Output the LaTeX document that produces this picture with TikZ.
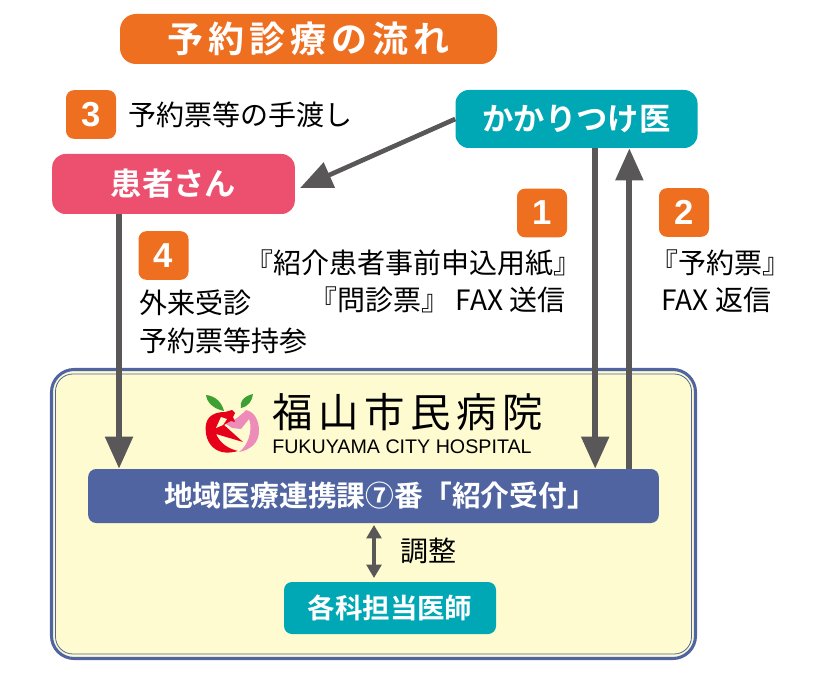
\documentclass[tikz,border=0pt]{standalone}
\usepackage{fontspec}
\usepackage{xcolor}
\usetikzlibrary{arrows.meta, calc}
\setmainfont{Noto Sans CJK JP}
\newfontfamily\titlefont[LetterSpace=14]{Noto Sans CJK JP Bold}
\newfontfamily\boldfont{Noto Sans CJK JP Bold}
\newfontfamily\hospfont[LetterSpace=14]{Noto Sans CJK JP}
\newfontfamily\latinfont{Liberation Sans}
\definecolor{OrangeBox}{RGB}{238,111,32}
\definecolor{TealBox}{RGB}{0,167,181}
\definecolor{PinkBox}{RGB}{236,80,110}
\definecolor{NavyBox}{RGB}{79,100,160}
\definecolor{CreamBox}{RGB}{254,251,208}
\definecolor{ArrowGray}{RGB}{89,87,87}
\definecolor{LogoRed}{RGB}{230,0,25}
\definecolor{LogoPink}{RGB}{238,140,185}
\definecolor{LogoGreen}{RGB}{60,160,50}

\begin{document}
\begin{tikzpicture}[
  x=0.75pt, y=-0.75pt,
  box/.style={rounded corners=10pt, text=white, inner sep=0pt,
              font=\boldfont\fontsize{23.5}{27}\selectfont},
  badge/.style={fill=OrangeBox, rounded corners=6pt, text=white,
                minimum width=37.5pt, minimum height=36.5pt, inner sep=0pt,
                font=\latinfont\bfseries\fontsize{26}{30}\selectfont},
  lbl/.style={inner sep=0pt, font=\fontsize{21}{25}\selectfont},
  arr/.style={line width=4.5pt, ArrowGray, -{Triangle[length=24pt, width=20pt]}},
]
\useasboundingbox (0,0) rectangle (828,677);
% Hospital panel
\node[draw=NavyBox, line width=2.3pt, fill=CreamBox, rounded corners=17pt,
      minimum width=483pt, minimum height=216.75pt, inner sep=0pt] (panel) at (373.5,514) {};
\node[draw=NavyBox, line width=0.6pt, rounded corners=13pt,
      minimum width=477pt, minimum height=210pt, inner sep=0pt] (panelin) at (373.5,514) {};
% Boxes
\node[box, fill=OrangeBox, minimum width=282.75pt, minimum height=37.5pt,
      rounded corners=12pt, font=\titlefont\fontsize{27}{32}\selectfont] (title) at (308.5,39) {予約診療の流れ};
\node[box, fill=TealBox, minimum width=181.5pt, minimum height=43.5pt] (clinic) at (576.5,119) {かかりつけ医};
\node[box, fill=PinkBox, minimum width=182pt, minimum height=45pt] (patient) at (173.5,184) {患者さん};
\node[box, fill=NavyBox, minimum width=428pt, minimum height=40.5pt, rounded corners=6pt,
      font=\boldfont\fontsize{21.6}{25}\selectfont] (liaison) at (373.5,496) {\hspace*{10pt}地域医療連携課⑦番「紹介受付」};
\node[box, fill=TealBox, minimum width=159pt, minimum height=39pt, rounded corners=6pt,
      font=\boldfont\fontsize{20.6}{25}\selectfont] (doctors) at (390,608) {各科担当医師};
% Step numbers
\node[badge] (stepthree) at (91,114.5) {3};
\node[badge] (stepone) at (542,213) {1};
\node[badge] (steptwo) at (684,212.5) {2};
\node[badge] (stepfour) at (163.5,255.5) {4};
% Labels
\node[lbl, anchor=west] (handover) at (128,115) {予約票等の手渡し};
\node[lbl, anchor=east] (formone) at (582,263) {『紹介患者事前申込用紙』};
\node[lbl, anchor=east] (formtwo) at (566,300) {『問診票』 FAX 送信};
\node[lbl, anchor=west] (replyone) at (650,263) {『予約票』};
\node[lbl, anchor=west] (replytwo) at (661,300) {FAX 返信};
\node[lbl, anchor=west] (visitone) at (139,303) {外来受診};
\node[lbl, anchor=west] (visittwo) at (139,341) {予約票等持参};
\node[lbl, anchor=west] (adjust) at (400,551) {調整};
% Hospital name
\node[inner sep=0pt, anchor=west, font=\hospfont\fontsize{30.3}{34}\selectfont] (hospname) at (272,412) {福山市民病院};
\node[inner sep=0pt, anchor=west, font=\latinfont\fontsize{14.75}{17}\selectfont] (hospen) at (272,447) {FUKUYAMA CITY HOSPITAL};
% Logo
\fill[LogoGreen] (206,395) .. controls (216,396) and (222,403) .. (224,411) .. controls (214,409) and (207,403) .. (206,395);
\fill[LogoGreen] (253,394) .. controls (244,396) and (239,402) .. (241,408) .. controls (249,406) and (252,401) .. (253,394);
\fill[LogoPink] (246,410) .. controls (255,412) and (259,421) .. (259,431) .. controls (259,443) and (250,450) .. (239,452)
  .. controls (246,447) and (250,438) .. (250.5,428) .. controls (250.5,424) and (250,421) .. (249,419)
  -- (241,429) -- (232,428) -- (226,424) -- (233,420) -- (237,418) -- (243,413) -- cycle;
\fill[LogoRed] (225,412) .. controls (210,412) and (205,420) .. (205.7,430) .. controls (206,442) and (213,450) .. (222,452)
  .. controls (228,453.5) and (234,452) .. (238,451) .. controls (230,449) and (221,445) .. (216,434)
  -- (243,442) -- (224,425) -- (231,421) -- (235,422) -- (233,417) -- (235,413) -- (232,410) -- cycle;
\fill[CreamBox] (221,417) -- (216,428) -- (223,425) -- (227,419) -- cycle;
% Connectors
\coordinate (faxout) at ($(clinic.south west)!0.577!(clinic.south east)$);
\coordinate (faxback) at ($(clinic.south west)!0.718!(clinic.south east)$);
\coordinate (visit) at ($(patient.south west)!0.276!(patient.south east)$);
\draw[arr] (visit) -- (visit |- liaison.north);
\draw[arr] (faxout) -- (faxout |- liaison.north);
\draw[arr] (faxback |- liaison.north) -- (faxback);
\draw[line width=3.5pt, ArrowGray, -{Triangle[length=24pt, width=20pt]}] (clinic.west) -- ($(patient.east)+(5,4)$);
\draw[line width=3pt, ArrowGray, {Triangle[length=10pt, width=11pt]}-{Triangle[length=10pt, width=11pt]}]
  (374,525) -- (374,578);
\end{tikzpicture}
\end{document}
